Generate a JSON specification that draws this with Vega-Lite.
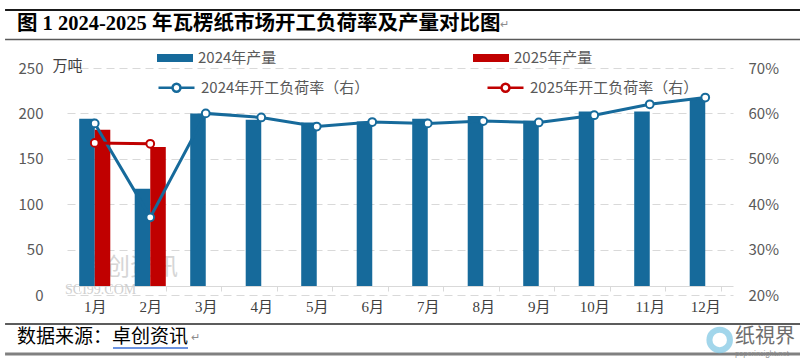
{
  "$schema": "https://vega.github.io/schema/vega-lite/v6.json",
  "width": 666,
  "height": 227,
  "autosize": {"type": "none"},
  "padding": {"left": 67, "top": 68, "right": 67, "bottom": 68},
  "background": "white",
  "config": {"view": {"stroke": null}, "font": "Noto Sans CJK SC"},
  "datasets": {
    "production": [
      {"month": "1月", "series": "2024年产量", "value": 194},
      {"month": "2月", "series": "2024年产量", "value": 117},
      {"month": "3月", "series": "2024年产量", "value": 200},
      {"month": "4月", "series": "2024年产量", "value": 193},
      {"month": "5月", "series": "2024年产量", "value": 190},
      {"month": "6月", "series": "2024年产量", "value": 191},
      {"month": "7月", "series": "2024年产量", "value": 194},
      {"month": "8月", "series": "2024年产量", "value": 197},
      {"month": "9月", "series": "2024年产量", "value": 192},
      {"month": "10月", "series": "2024年产量", "value": 202},
      {"month": "11月", "series": "2024年产量", "value": 202},
      {"month": "12月", "series": "2024年产量", "value": 217},
      {"month": "1月", "series": "2025年产量", "value": 182},
      {"month": "2月", "series": "2025年产量", "value": 163}
    ],
    "rate": [
      {"month": "1月", "series": "2024年开工负荷率（右）", "rate": 0.578},
      {"month": "2月", "series": "2024年开工负荷率（右）", "rate": 0.371},
      {"month": "3月", "series": "2024年开工负荷率（右）", "rate": 0.600},
      {"month": "4月", "series": "2024年开工负荷率（右）", "rate": 0.591},
      {"month": "5月", "series": "2024年开工负荷率（右）", "rate": 0.571},
      {"month": "6月", "series": "2024年开工负荷率（右）", "rate": 0.581},
      {"month": "7月", "series": "2024年开工负荷率（右）", "rate": 0.578},
      {"month": "8月", "series": "2024年开工负荷率（右）", "rate": 0.583},
      {"month": "9月", "series": "2024年开工负荷率（右）", "rate": 0.580},
      {"month": "10月", "series": "2024年开工负荷率（右）", "rate": 0.596},
      {"month": "11月", "series": "2024年开工负荷率（右）", "rate": 0.620},
      {"month": "12月", "series": "2024年开工负荷率（右）", "rate": 0.635},
      {"month": "1月", "series": "2025年开工负荷率（右）", "rate": 0.535},
      {"month": "2月", "series": "2025年开工负荷率（右）", "rate": 0.533}
    ]
  },
  "layer": [
    {
      "data": {"values": [{}]},
      "layer": [
        {
          "mark": {"type": "rule", "color": "#1a1a1a", "strokeWidth": 2},
          "encoding": {
            "x": {"datum": -0.093, "type": "quantitative", "scale": {"domain": [0, 1], "nice": false, "zero": false}, "axis": null},
            "x2": {"datum": 1.101},
            "y": {"datum": 1.2555, "type": "quantitative", "scale": {"domain": [0, 1], "nice": false, "zero": false}, "axis": null}
          }
        },
        {
          "mark": {"type": "rule", "color": "#595959", "strokeWidth": 1.5},
          "encoding": {
            "x": {"datum": -0.093, "type": "quantitative"},
            "x2": {"datum": 1.101},
            "y": {"datum": 1.1256, "type": "quantitative"}
          }
        },
        {
          "mark": {"type": "rule", "color": "#262626", "strokeWidth": 1.5},
          "encoding": {
            "x": {"datum": -0.093, "type": "quantitative"},
            "x2": {"datum": 1.101},
            "y": {"datum": -0.1278, "type": "quantitative"}
          }
        },
        {
          "mark": {"type": "rule", "color": "#808080", "strokeWidth": 3},
          "encoding": {
            "x": {"datum": -0.093, "type": "quantitative"},
            "x2": {"datum": 1.101},
            "y": {"datum": -0.2599, "type": "quantitative"}
          }
        },
        {
          "mark": {"type": "text", "align": "left", "baseline": "middle", "fontSize": 20.5, "fontWeight": "bold", "font": "Liberation Serif, Noto Sans CJK SC", "color": "#000000", "text": "图 1  2024-2025 年瓦楞纸市场开工负荷率及产量对比图"},
          "encoding": {
            "x": {"datum": -0.0751, "type": "quantitative"},
            "y": {"datum": 1.1938, "type": "quantitative"}
          }
        },
        {
          "mark": {"type": "text", "align": "left", "baseline": "middle", "fontSize": 11, "color": "#8c8c8c", "text": "↵"},
          "encoding": {
            "x": {"datum": 0.650, "type": "quantitative"},
            "y": {"datum": 1.19, "type": "quantitative"}
          }
        },
        {
          "mark": {"type": "text", "align": "left", "baseline": "middle", "fontSize": 19, "color": "#000000", "text": "数据来源：卓创资讯"},
          "encoding": {
            "x": {"datum": -0.0751, "type": "quantitative"},
            "y": {"datum": -0.185, "type": "quantitative"}
          }
        },
        {
          "mark": {"type": "text", "align": "left", "baseline": "middle", "fontSize": 11, "color": "#8c8c8c", "text": "↵"},
          "encoding": {
            "x": {"datum": 0.1865, "type": "quantitative"},
            "y": {"datum": -0.19, "type": "quantitative"}
          }
        },
        {
          "mark": {"type": "rule", "color": "#3b6fd6", "strokeWidth": 1.5},
          "encoding": {
            "x": {"datum": 0.0691, "type": "quantitative"},
            "x2": {"datum": 0.1817},
            "y": {"datum": -0.2335, "type": "quantitative"}
          }
        },
        {
          "mark": {"type": "text", "align": "left", "baseline": "middle", "fontSize": 24, "color": "#d6d6d6", "text": "卓创资讯"},
          "encoding": {
            "x": {"datum": 0.0225, "type": "quantitative"},
            "y": {"datum": 0.118, "type": "quantitative"}
          }
        },
        {
          "mark": {"type": "text", "align": "left", "baseline": "middle", "fontSize": 14, "font": "Liberation Serif", "color": "#d0d0d0", "text": "SCI99.COM"},
          "encoding": {
            "x": {"datum": -0.003, "type": "quantitative"},
            "y": {"datum": 0.024, "type": "quantitative"}
          }
        },
        {
          "mark": {"type": "point", "shape": "circle", "filled": false, "stroke": "#7cc6e3", "strokeWidth": 6, "size": 420},
          "encoding": {
            "x": {"datum": 0.98, "type": "quantitative"},
            "y": {"datum": -0.198, "type": "quantitative"}
          }
        },
        {
          "mark": {"type": "text", "align": "left", "baseline": "middle", "fontSize": 20, "color": "#6e6e6e", "text": "纸視界"},
          "encoding": {
            "x": {"datum": 1.003, "type": "quantitative"},
            "y": {"datum": -0.185, "type": "quantitative"}
          }
        },
        {
          "mark": {"type": "text", "align": "left", "baseline": "middle", "fontSize": 7, "color": "#888888", "text": "paperinsight.net"},
          "encoding": {
            "x": {"datum": 1.003, "type": "quantitative"},
            "y": {"datum": -0.262, "type": "quantitative"}
          }
        }
      ]
    },
    {
      "layer": [
        {
          "data": {"name": "production"},
          "mark": {"type": "bar"},
          "encoding": {
            "x": {
              "field": "month", "type": "nominal",
              "sort": ["1月", "2月", "3月", "4月", "5月", "6月", "7月", "8月", "9月", "10月", "11月", "12月"],
              "scale": {"paddingInner": 0.44, "paddingOuter": 0.22},
              "axis": {"orient": "bottom", "title": null, "offset": -9, "labelAngle": 0, "domainColor": "#d9d9d9", "ticks": true, "tickBand": "extent", "tickColor": "#d9d9d9", "tickSize": 5, "labelPadding": 8, "labelFontSize": 15, "labelFont": "Liberation Serif, Noto Sans CJK SC", "labelColor": "#404040", "grid": false}
            },
            "xOffset": {"field": "series", "type": "nominal", "sort": ["2024年产量", "2025年产量"]},
            "y": {
              "field": "value", "type": "quantitative",
              "scale": {"domain": [0, 250], "nice": false},
              "axis": {"orient": "left", "values": [0, 50, 100, 150, 200, 250], "grid": true, "gridDash": [8, 5], "gridColor": "#d9d9d9", "domain": false, "ticks": false, "labelPadding": 24, "labelFontSize": 15, "labelColor": "#595959", "title": "万吨", "titleAngle": 0, "titleX": -15, "titleY": -3, "titleAlign": "left", "titleBaseline": "middle", "titleFontSize": 15, "titleFontWeight": "normal", "titleColor": "#404040"}
            },
            "y2": {"datum": 10},
            "fill": {
              "field": "series", "type": "nominal",
              "scale": {"domain": ["2024年产量", "2025年产量"], "range": ["#166a9b", "#c00000"]},
              "legend": {"title": null, "orient": "none", "legendX": 90, "legendY": -28, "direction": "horizontal", "columns": 2, "columnPadding": 196, "padding": 0, "symbolType": "M-1,-0.22H1V0.22H-1Z", "symbolSize": 1296, "symbolStrokeWidth": 0, "labelOffset": 5, "labelFontSize": 15, "labelColor": "#595959", "labelLimit": 400}
            }
          }
        },
        {
          "data": {"name": "rate"},
          "mark": {"type": "line", "strokeWidth": 3, "point": {"filled": false, "fill": "white", "size": 60, "strokeWidth": 2}},
          "encoding": {
            "x": {"field": "month", "type": "nominal", "sort": ["1月", "2月", "3月", "4月", "5月", "6月", "7月", "8月", "9月", "10月", "11月", "12月"]},
            "y": {
              "field": "rate", "type": "quantitative",
              "scale": {"domain": [0.2, 0.7], "nice": false, "zero": false},
              "axis": {"orient": "right", "values": [0.2, 0.3, 0.4, 0.5, 0.6, 0.7], "format": ".0%", "grid": false, "domain": false, "ticks": false, "labelPadding": 15, "labelFontSize": 15, "labelColor": "#595959", "title": null}
            },
            "stroke": {
              "field": "series", "type": "nominal",
              "scale": {"domain": ["2024年开工负荷率（右）", "2025年开工负荷率（右）"], "range": ["#166a9b", "#c00000"]},
              "legend": {"title": null, "orient": "none", "legendX": 90, "legendY": 0, "direction": "horizontal", "columns": 2, "columnPadding": 112, "padding": 0, "symbolType": "M-1,0H-0.22M0.22,0H1M-0.22,0A0.22,0.22 0 1,0 0.22,0A0.22,0.22 0 1,0 -0.22,0", "symbolSize": 1296, "symbolStrokeWidth": 2.5, "symbolFillColor": "white", "labelOffset": 5, "labelFontSize": 15, "labelColor": "#595959", "labelLimit": 400}
            }
          }
        }
      ],
      "resolve": {"scale": {"y": "independent"}}
    }
  ],
  "resolve": {"scale": {"x": "independent", "y": "independent"}}
}
